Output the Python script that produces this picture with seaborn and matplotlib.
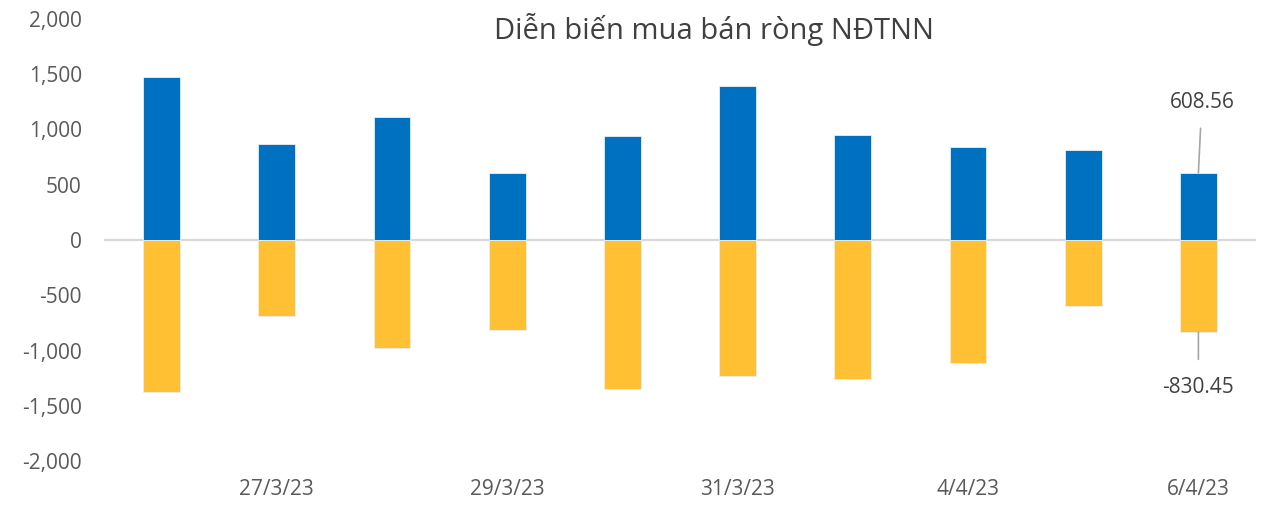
import matplotlib
matplotlib.use("Agg")
import matplotlib.pyplot as plt
import seaborn as sns
import pandas as pd

dates = ["24/3/23", "27/3/23", "28/3/23", "29/3/23", "30/3/23",
         "31/3/23", "3/4/23", "4/4/23", "5/4/23", "6/4/23"]
buy_values = [1474, 865, 1109, 606, 940, 1398, 949, 841, 814, 608.56]
sell_values = [-1377, -690, -979, -814, -1347, -1227, -1260, -1109, -594, -830.45]
shown_ticks = ["27/3/23", "29/3/23", "31/3/23", "4/4/23", "6/4/23"]
y_ticks = [-2000, -1500, -1000, -500, 0, 500, 1000, 1500, 2000]
title = "Diễn biến mua bán ròng NĐTNN"

sns.set_theme(style="white")
plt.rcParams['font.family'] = ['Open Sans', 'DejaVu Sans']

df = pd.DataFrame({
    "date": dates * 2,
    "value": buy_values + sell_values,
    "kind": ["Mua"] * len(dates) + ["Bán"] * len(dates),
})

fig = plt.figure(figsize=(12.69, 5.05), dpi=100)
ax = fig.add_axes([104 / 1269, 44 / 505, 1152 / 1269, 442 / 505])

sns.barplot(data=df, x="date", y="value", hue="kind", dodge=False,
            palette={"Mua": "#0070C0", "Bán": "#FFC033"}, width=0.32,
            saturation=1, edgecolor="#E8EEF4", linewidth=0.6, legend=False, ax=ax)

ax.set_ylim(-2000, 2000)
ax.set_xlim(-0.5, len(dates) - 0.5)
ax.set_yticks(y_ticks)
ax.set_yticklabels([f"{v:,}" for v in y_ticks])
ax.set_xticks([dates.index(d) for d in shown_ticks])
ax.set_xticklabels(shown_ticks)
ax.set_xlabel("")
ax.set_ylabel("")
for s in ax.spines.values():
    s.set_visible(False)
ax.axhline(0, color="#D9D9D9", lw=1.6, zorder=0.5)
ax.tick_params(axis="y", length=0, pad=16, labelsize=15, labelcolor="#595959")
ax.tick_params(axis="x", length=0, pad=13, labelsize=15, labelcolor="#595959")

last = len(dates) - 1
ax.annotate(f"{buy_values[-1]:.2f}", xy=(last, buy_values[-1]),
            xytext=(last + 0.03, buy_values[-1] + 640), ha="center", va="center",
            fontsize=15, color="#404040",
            arrowprops=dict(arrowstyle="-", color="#A6A6A6", lw=1.2, shrinkA=9, shrinkB=0))
ax.annotate(f"{sell_values[-1]:.2f}", xy=(last, sell_values[-1]),
            xytext=(last, sell_values[-1] - 500), ha="center", va="center",
            fontsize=15, color="#404040",
            arrowprops=dict(arrowstyle="-", color="#A6A6A6", lw=1.2, shrinkA=10, shrinkB=0))

fig.text(714 / 1269, 1 - 30 / 505, title, ha="center", va="center",
         fontsize=21, color="#404040")

fig.savefig("out.png", dpi=100)
